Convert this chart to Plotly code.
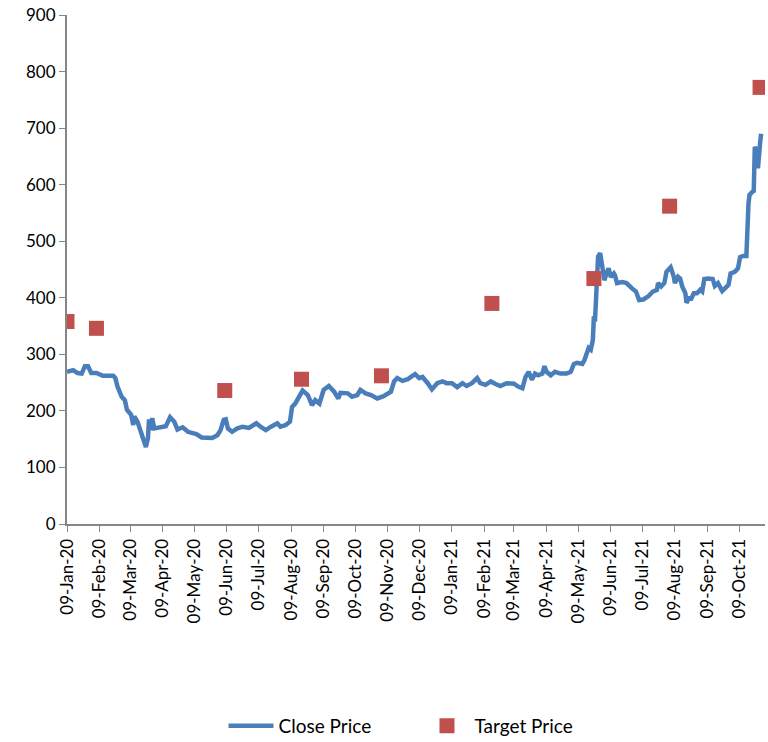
import pandas as pd
import plotly.graph_objects as go

START = pd.Timestamp("2020-01-09")

# Close price: days elapsed since 09-Jan-20 and price
close_days = [0, 6, 10, 14, 17, 20, 23, 28, 34, 44, 46, 48, 52, 55, 57, 61, 63, 64, 67, 71,
              75, 77, 78, 79, 81, 83, 88, 94, 98, 102, 105, 110, 115, 123, 128, 138, 143, 146, 149, 151,
              153, 157, 162, 167, 173, 180, 184, 189, 194, 200, 203, 208, 212, 214, 217, 221, 224, 229, 233, 236,
              240, 244, 249, 254, 258, 260, 267, 271, 276, 279, 284, 289, 295, 301, 308, 311, 314, 319, 324, 327,
              331, 335, 338, 343, 347, 352, 357, 361, 366, 371, 376, 380, 385, 390, 393, 398, 403, 407, 412, 418,
              425, 429, 433, 436, 439, 442, 445, 448, 452, 454, 456, 460, 464, 469, 475, 479, 482, 485, 490, 492,
              494, 496, 498, 500, 501, 502, 503, 504, 505, 507, 509, 511, 513, 515, 517, 520, 521, 523, 528, 532,
              537, 541, 544, 548, 553, 557, 561, 562, 565, 568, 570, 574, 577, 578, 581, 583, 585, 588, 589, 592,
              593, 596, 599, 602, 604, 606, 610, 614, 616, 619, 623, 626, 629, 631, 635, 638, 640, 643, 646, 648,
              649, 652, 653, 654, 656, 657, 658, 659, 660]
close_price = [269, 272, 267, 266, 279, 279, 267, 267, 262, 262, 258, 243, 225, 219, 202, 193, 175, 190, 181, 160,
               136, 152, 185, 166, 187, 169, 171, 173, 189, 181, 167, 171, 163, 159, 153, 152, 157, 166, 184, 185,
               169, 163, 169, 172, 170, 178, 172, 166, 172, 178, 172, 175, 181, 207, 213, 228, 236, 228, 210, 219,
               213, 237, 244, 234, 222, 232, 231, 225, 228, 237, 231, 228, 222, 226, 234, 252, 258, 253, 256, 260,
               265, 258, 260, 249, 238, 249, 252, 249, 249, 242, 249, 244, 249, 258, 249, 246, 252, 248, 244, 249,
               248, 243, 240, 260, 269, 255, 266, 263, 266, 279, 269, 263, 269, 266, 266, 269, 283, 285, 283, 290,
               302, 311, 308, 325, 367, 358, 396, 443, 473, 479, 449, 431, 443, 452, 437, 443, 440, 426, 428, 426,
               417, 411, 396, 397, 403, 411, 414, 426, 420, 426, 446, 454, 437, 426, 437, 434, 420, 408, 391, 402,
               396, 408, 408, 414, 411, 433, 434, 433, 421, 426, 412, 417, 423, 443, 446, 452, 472, 474, 474, 567,
               582, 588, 589, 667, 658, 629, 661, 673, 690]

# Target price
target_days = [0, 28, 150, 223, 299, 404, 501, 573, 659]
target_price = [358, 346, 236, 256, 262, 390, 434, 562, 772]

y_ticks = [0, 100, 200, 300, 400, 500, 600, 700, 800, 900]

close_dates = [START + pd.Timedelta(days=d) for d in close_days]
target_dates = [START + pd.Timedelta(days=d) for d in target_days]

fig = go.Figure()
fig.add_trace(go.Scatter(
    x=close_dates, y=close_price, mode="lines", name="Close Price",
    line=dict(color="#4A7EBB", width=4.5),
))
fig.add_trace(go.Scatter(
    x=target_dates, y=target_price, mode="markers", name="Target Price",
    marker=dict(symbol="square", size=15, color="#C0504D"),
))

axis_font = dict(family="Lato", size=17, color="#000000")
fig.update_layout(
    width=768, height=742,
    margin=dict(l=67, r=3, t=15, b=218, autoexpand=False),
    plot_bgcolor="white", paper_bgcolor="white",
    font=axis_font,
    showlegend=True,
    legend=dict(orientation="h", xref="container", yref="container",
                x=0.291, xanchor="left", y=0.0216, yanchor="middle",
                font=dict(family="Lato", size=19, color="#000000"),
                itemwidth=45, entrywidth=136, traceorder="normal"),
    xaxis=dict(
        type="date",
        range=[START, START + pd.Timedelta(days=663.7)],
        tick0="2020-01-09", dtick="M1", tickformat="%d-%b-%y",
        tickangle=-90, ticks="outside", ticklen=6, tickcolor="#868686",
        showline=True, linecolor="#868686", linewidth=2,
        showgrid=False, zeroline=False, tickfont=axis_font, automargin=False,
    ),
    yaxis=dict(
        range=[0, 900], tickvals=y_ticks, ticks="outside", ticklen=6, tickcolor="#868686",
        showline=True, linecolor="#868686", linewidth=2,
        showgrid=False, zeroline=False, tickfont=axis_font, automargin=False,
    ),
)

fig.write_html("out.html")
